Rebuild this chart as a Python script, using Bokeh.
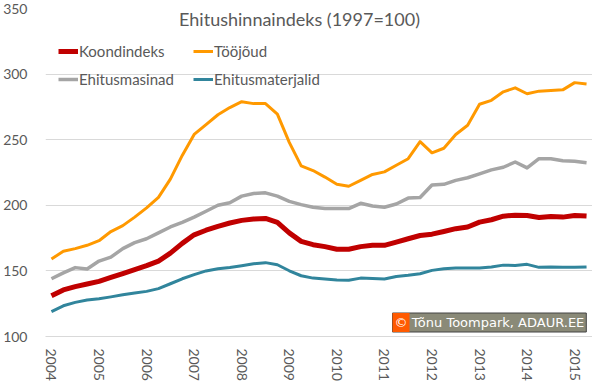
from bokeh.plotting import figure
from bokeh.models import ColumnDataSource, Range1d, FixedTicker, Legend, LegendItem, Label
from bokeh.embed import file_html
from bokeh.resources import INLINE

# Quarterly data 2004 Q1 .. 2015 Q2
years = ["2004", "2005", "2006", "2007", "2008", "2009",
         "2010", "2011", "2012", "2013", "2014", "2015"]

koondindeks = [131, 135.5, 138, 140, 142, 145, 148, 151, 154, 157.5,
               163.5, 171, 177.5, 181, 184, 186.5, 188.5, 189.5, 190, 187,
               179, 172.5, 170, 168.5, 166.5, 166.5, 168.5, 169.5, 169.5, 172,
               174.5, 177, 178, 180, 182.2, 183.5, 187.2, 189, 191.7, 192.5,
               192.2, 190.7, 191.5, 191, 192.3, 191.8]

toojoud = [159, 165, 167, 169.5, 173, 180, 184.5, 191, 198, 206,
           220, 238, 254, 261.5, 269, 274.5, 279, 277.5, 277.5, 269.5,
           248, 230, 226.5, 221.5, 216, 214.5, 219, 223.5, 225.5, 230.5,
           235.5, 248.5, 240, 243.5, 254, 261, 277, 280, 286.5, 289.5,
           285, 287, 287.5, 288, 293.5, 292.5]

ehitusmasinad = [144, 148.5, 152.5, 151.5, 157.5, 160.5, 167, 171.5, 174.5, 179,
                 183.5, 187, 191, 195.5, 200, 202, 207, 209, 209.5, 207,
                 203, 200.5, 198.5, 197.5, 197.5, 197.5, 201.5, 199.5, 198.5, 201,
                 205.5, 206, 215.5, 216, 219, 221, 224, 227, 229, 233,
                 228.5, 235.5, 235.5, 234, 233.5, 232.5]

ehitusmaterjalid = [119, 123.4, 126, 127.8, 128.8, 130.2, 131.8, 133.1, 134.4, 136.5,
                    140.2, 144, 147.2, 150, 151.6, 152.6, 153.9, 155.4, 156.3, 154.7,
                    150.1, 146.3, 144.5, 143.8, 143, 142.8, 144.5, 144.3, 143.8, 145.8,
                    146.6, 147.8, 150.4, 151.6, 152.2, 152.2, 152.2, 152.9, 154.4, 154.1,
                    155, 152.7, 152.9, 152.7, 152.7, 153]

y_ticks = [100, 150, 200, 250, 300, 350]

n = len(koondindeks)
src = ColumnDataSource(dict(
    x=list(range(n)),
    koond=koondindeks, tj=toojoud, mas=ehitusmasinad, mat=ehitusmaterjalid))

TXT = "#595959"
FONT = "Lato"
FW, FH = 547, 328

p = figure(frame_width=FW, frame_height=FH, output_backend="svg", toolbar_location=None,
           x_range=Range1d(-0.5, n - 0.5), y_range=Range1d(100, 350),
           min_border_left=37, min_border_right=0, min_border_top=8, min_border_bottom=40)
p.outline_line_color = None
p.background_fill_color = "white"
p.border_fill_color = "white"

# grid
p.xgrid.grid_line_color = None
p.ygrid.grid_line_color = "#D9D9D9"
p.ygrid.grid_line_width = 1

# y axis
p.yaxis.ticker = FixedTicker(ticks=y_ticks)
p.yaxis.axis_line_color = None
p.yaxis.major_tick_line_color = None
p.yaxis.minor_tick_line_color = None
p.yaxis.major_label_standoff = 12
p.yaxis.major_label_text_font = FONT
p.yaxis.major_label_text_font_size = "14px"
p.yaxis.major_label_text_color = TXT

# x axis
tick_pos = [i * 4 for i in range(len(years))]
p.xaxis.ticker = FixedTicker(ticks=tick_pos)
p.xaxis.major_label_overrides = {t: y for t, y in zip(tick_pos, years)}
p.xaxis.major_label_orientation = "vertical"
p.xaxis.axis_line_color = "#D9D9D9"
p.xaxis.axis_line_width = 1
p.xaxis.major_tick_line_color = None
p.xaxis.minor_tick_line_color = None
p.xaxis.major_label_standoff = 6
p.xaxis.major_label_text_font = FONT
p.xaxis.major_label_text_font_size = "14px"
p.xaxis.major_label_text_color = TXT

r_mat = p.line("x", "mat", source=src, line_color="#31859C", line_width=3, line_join="round")
r_mas = p.line("x", "mas", source=src, line_color="#A5A5A5", line_width=3.5, line_join="round")
r_tj = p.line("x", "tj", source=src, line_color="#FF9900", line_width=3, line_join="round")
r_k = p.line("x", "koond", source=src, line_color="#C00000", line_width=5, line_join="round")

legend = Legend(items=[
    LegendItem(label="Koondindeks", renderers=[r_k]),
    LegendItem(label="Tööjõud", renderers=[r_tj]),
    LegendItem(label="Ehitusmasinad", renderers=[r_mas]),
    LegendItem(label="Ehitusmaterjalid", renderers=[r_mat]),
], location=(13, 247), orientation="horizontal", ncols=2)
legend.background_fill_alpha = 0
legend.border_line_color = None
legend.padding = 0
legend.margin = 0
legend.spacing = 8
legend.glyph_width = 20
legend.glyph_height = 20
legend.label_height = 20
legend.label_width = 106
legend.label_standoff = 1
legend.label_text_font = FONT
legend.label_text_font_size = "15px"
legend.label_text_color = TXT
p.add_layout(legend, "center")

title = Label(x=254, y=FH - 10.5, x_units="screen", y_units="screen",
              text="Ehitushinnaindeks (1997=100)", text_align="center",
              text_baseline="alphabetic", text_font=FONT, text_font_size="18px",
              text_color=TXT, background_fill_color="white", padding=2)
p.add_layout(title)

copy_box = Label(x=347, y=14, x_units="screen", y_units="screen",
                 text="\u00a9 Tõnu Toompark, ADAUR.EE", text_align="left",
                 text_baseline="middle", text_font="DejaVu Sans", text_font_size="13px",
                 text_color="white", background_fill_color="#8A8A78",
                 border_line_color="#444444", border_line_width=1, padding=2)
p.add_layout(copy_box)
copy_mark = Label(x=347, y=14, x_units="screen", y_units="screen",
                  text="\u00a9", text_align="left",
                  text_baseline="middle", text_font="DejaVu Sans", text_font_size="13px",
                  text_color="white", background_fill_color="#FF5A00", padding=2)
p.add_layout(copy_mark)

open("out.html", "w").write(file_html(p, INLINE))
